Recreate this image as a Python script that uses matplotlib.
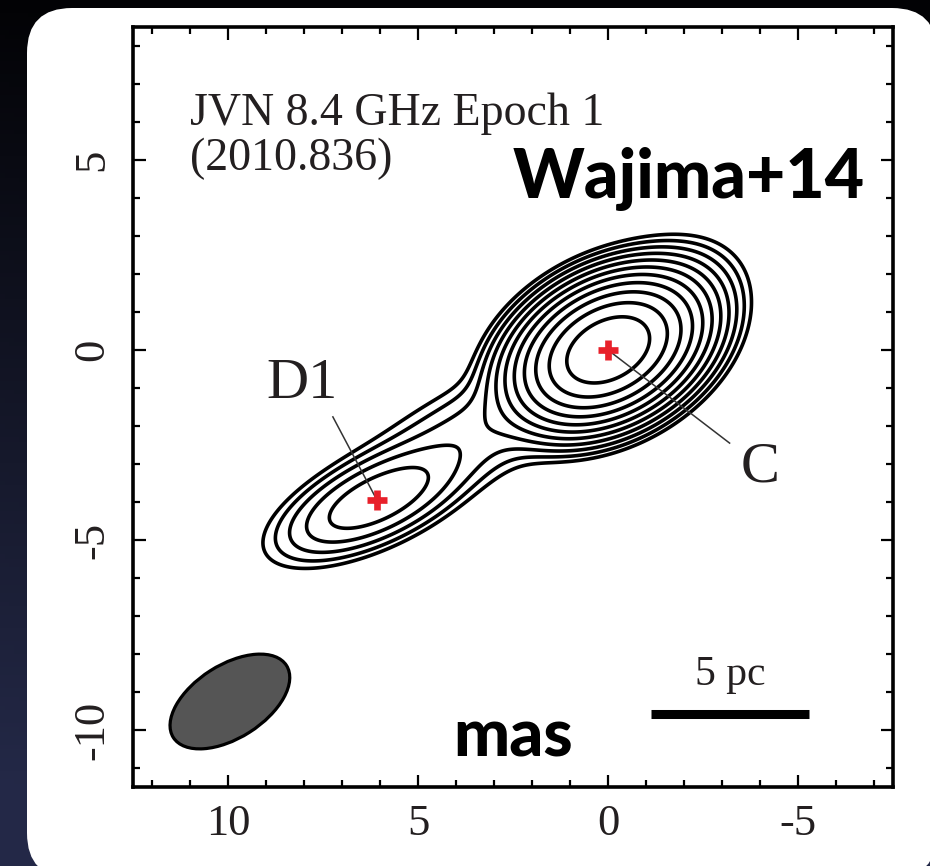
import numpy as np
import matplotlib
matplotlib.use("Agg")
import matplotlib.pyplot as plt
from matplotlib.patches import Ellipse, FancyBboxPatch
from matplotlib.transforms import IdentityTransform
from matplotlib.ticker import MultipleLocator

plt.rcParams["axes.unicode_minus"] = False

# Gaussian components of the 8.4 GHz image (offsets in mas, peak in units of lowest contour)
comp_name = ["C", "J", "B", "D1"]
comp_x = [0.0, -1.3, 3.2, 6.1]
comp_y = [0.0, 0.9, -2.0, -3.95]
comp_peak = [2000.0, 20.0, 6.0, 28.0]
comp_sig_a = [1.0, 1.0, 1.9, 1.25]
comp_sig_b = [0.66, 0.7, 0.65, 0.5]
comp_theta = [152.0, 145.0, 155.0, 155.0]   # major axis angle, deg from +x

# contour levels: lowest level x 2^n
contour_levels = 2.0 ** np.arange(11)

# labelled components
label_name = ["D1", "C"]
label_x = [6.08, 0.0]
label_y = [-3.95, 0.0]
label_text_x = [8.05, -4.0]
label_text_y = [-0.9, -3.1]
leader_end_x = [7.24, -3.2]
leader_end_y = [-1.76, -2.45]

# restoring beam (FWHM, mas)
beam_x, beam_y = 9.95, -9.25
beam_major, beam_minor, beam_angle = 3.53, 1.92, 147.5

# 5 pc scale bar
bar_x = [-1.13, -5.29]
bar_y = -9.59

textcol = "#231f20"
serif = ["Liberation Serif", "DejaVu Serif"]

fig = plt.figure(figsize=(9.3, 8.66), dpi=100)

# dark slide background, black at the top fading to navy lower down
bg = fig.add_axes([0, 0, 1, 1], zorder=-10)
gx, gy = np.meshgrid(np.linspace(0, 1, 200), np.linspace(0, 1, 200))
shade = np.clip((1 - gy) * 1.1 - 0.1 + (1 - gx) * 0.1, 0, 1)
rgb = np.zeros((200, 200, 3))
rgb[..., 0] = 0.01 + 0.13 * shade
rgb[..., 1] = 0.01 + 0.15 * shade
rgb[..., 2] = 0.02 + 0.26 * shade
bg.imshow(rgb, origin="lower", aspect="auto", extent=[0, 1, 0, 1])
bg.axis("off")

# white rounded panel, in pixels
panel = FancyBboxPatch((27, -12), 910, 870, boxstyle="round,pad=0,rounding_size=45",
                       transform=IdentityTransform(), facecolor="white",
                       edgecolor="none", zorder=-5)
fig.add_artist(panel)

ax = fig.add_axes([133 / 930, 79 / 866, 760 / 930, 760 / 866])
ax.set_facecolor("none")

xs = np.linspace(12.5, -7.5, 700)
ys = np.linspace(-11.5, 8.5, 700)
X, Y = np.meshgrid(xs, ys)
img = np.zeros_like(X)
for x0, y0, p, sa, sb, th in zip(comp_x, comp_y, comp_peak, comp_sig_a, comp_sig_b, comp_theta):
    t = np.radians(th)
    dx, dy = X - x0, Y - y0
    u = dx * np.cos(t) + dy * np.sin(t)
    v = -dx * np.sin(t) + dy * np.cos(t)
    img += p * np.exp(-0.5 * ((u / sa) ** 2 + (v / sb) ** 2))

ax.contour(X, Y, img, levels=contour_levels, colors="black", linewidths=2.6)

# leaders and labels
for i in range(len(label_name)):
    ax.plot([label_x[i], leader_end_x[i]], [label_y[i], leader_end_y[i]],
            color="#333333", lw=1.1, zorder=4)
    ax.text(label_text_x[i], label_text_y[i], label_name[i], fontsize=42,
            family=serif, color=textcol, ha="center", va="center")
ax.plot(label_x, label_y, "+", color="#e8202a", ms=15, mew=4.8, zorder=5)

beam = Ellipse((beam_x, beam_y), beam_major, beam_minor, angle=beam_angle,
               facecolor="#555555", edgecolor="black", lw=2.3)
ax.add_patch(beam)

ax.plot(bar_x, [bar_y, bar_y], color="black", lw=6.5, solid_capstyle="butt")
ax.text(np.mean(bar_x), bar_y + 0.55, "5 pc", fontsize=30, family=serif,
        color=textcol, ha="center", va="bottom")

ax.text(11.0, 5.92, "JVN 8.4 GHz Epoch 1", fontsize=33, family=serif,
        color=textcol, ha="left", va="baseline")
ax.text(11.0, 4.74, "(2010.836)", fontsize=33, family=serif,
        color=textcol, ha="left", va="baseline")
ax.text(-6.75, 4.0, "Wajima+14", fontsize=49, family="Lato", weight="black",
        color="black", ha="right", va="baseline")
ax.text(2.5, -10.7, "mas", fontsize=48, family="Lato", weight="black",
        color="black", ha="center", va="baseline")

ax.set_xlim(12.5, -7.5)
ax.set_ylim(-11.5, 8.5)
ax.set_aspect("equal")
ax.xaxis.set_major_locator(MultipleLocator(5))
ax.xaxis.set_minor_locator(MultipleLocator(1))
ax.yaxis.set_major_locator(MultipleLocator(5))
ax.yaxis.set_minor_locator(MultipleLocator(1))
ax.tick_params(which="both", direction="in", top=True, right=True, color="black")
ax.tick_params(which="major", length=9, width=1.6, pad=12)
ax.tick_params(which="minor", length=5, width=1.6)
ax.tick_params(axis="y", which="major", pad=15)
for lab in ax.get_xticklabels() + ax.get_yticklabels():
    lab.set_family(serif)
    lab.set_fontsize(32)
    lab.set_color(textcol)
for lab in ax.get_yticklabels():
    lab.set_rotation(90)
    lab.set_va("center")
for s in ax.spines.values():
    s.set_linewidth(2.6)

fig.savefig("out.png", dpi=100)
